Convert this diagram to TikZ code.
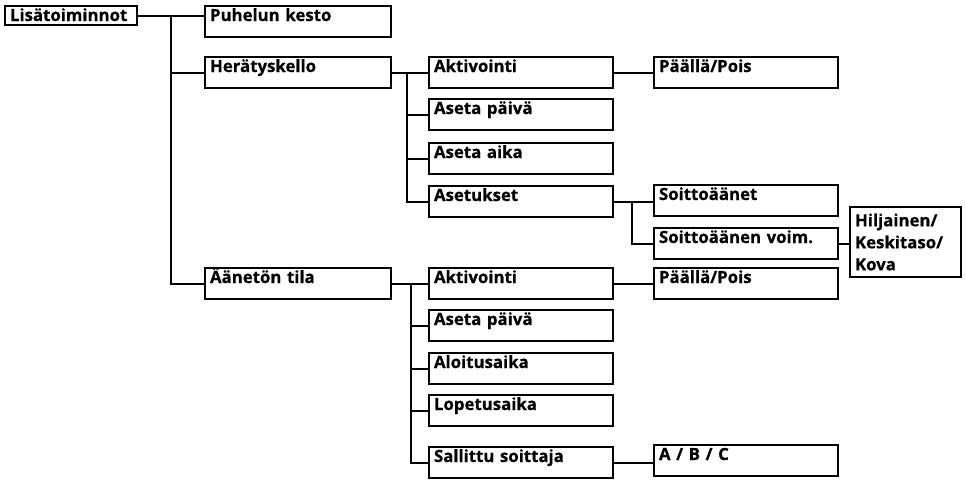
\documentclass[tikz,border=0pt]{standalone}
\usepackage{fontspec}
\setmainfont{Open Sans}[BoldFeatures={FakeBold=0.6}]
\usepackage{tikz}
\usetikzlibrary{positioning,calc}
\tikzset{
  box/.style={draw=black,line width=2pt,anchor=north west,inner xsep=5pt,inner ysep=0pt,
    align=left,font=\fontsize{16.8pt}{22pt}\selectfont\bfseries,
    text height=15pt,text depth=16pt},
  boxtop/.style={box,text width=122pt,text depth=4pt},
  boxa/.style={box,text width=176pt},   % first level
  boxb/.style={box,text width=174pt},   % second level
  boxc/.style={box,text width=174pt},   % third level
  boxd/.style={box,text width=101pt,text height=,text depth=,minimum height=70pt},
  link/.style={draw=black,line width=2pt},
}
\begin{document}
\begin{tikzpicture}[x=1pt,y=-1pt]
  \useasboundingbox (0,0) rectangle (966,479);
  % root and first level
  \node[boxtop] (root) at (4,5)   {Lisätoiminnot};
  \node[boxa]   (kesto) at (204,5)  {Puhelun kesto};
  \node[boxa]   (herat) at (204,56) {Herätyskello};
  \node[boxa]   (aanet) at (204,267){Äänetön tila};
  % alarm clock branch
  \node[boxb] (hakt)  at (428,56)  {Aktivointi};
  \node[boxb] (hpv)   at (428,98)  {Aseta päivä};
  \node[boxb] (haika) at (428,142) {Aseta aika};
  \node[boxb] (haset) at (428,185) {Asetukset};
  \node[boxc] (hpaal) at (653,56)  {Päällä/Pois};
  \node[boxc] (hsoi)  at (653,184) {Soittoäänet};
  \node[boxc] (hvoim) at (653,227) {Soittoäänen voim.};
  \node[boxd] (htaso) at (849,206) {Hiljainen/\\Keskitaso/\\Kova};
  % silent mode branch
  \node[boxb] (sakt)  at (428,267) {Aktivointi};
  \node[boxb] (spv)   at (428,309) {Aseta päivä};
  \node[boxb] (salku) at (428,352) {Aloitusaika};
  \node[boxb] (sloppu)at (428,394) {Lopetusaika};
  \node[boxb] (ssall) at (428,446) {Sallittu soittaja};
  \node[boxc] (spaal) at (653,267) {Päällä/Pois};
  \node[boxc] (sabc)  at (653,444) {A / B / C};
  % trunks
  \coordinate (j0) at (171,0);
  \coordinate (j1) at (407,0);
  \coordinate (j2) at (411,0);
  \coordinate (j3) at (632,0);
  \draw[link] (root.east) -- (kesto.west |- root.east);
  \draw[link] (j0 |- root.east) |- (aanet.west);
  \draw[link] (j0 |- herat.west) -- (herat.west);
  \draw[link] (herat.east) -- (hakt.west |- herat.east);
  \draw[link] (j1 |- herat.east) |- (haset.west);
  \foreach \n in {hpv,haika}
    \draw[link] (j1 |- \n.west) -- (\n.west);
  \draw[link] (hakt.east) -- (hpaal.west |- hakt.east);
  \draw[link] (haset.east) -- (hsoi.west |- haset.east);
  \draw[link] (j3 |- haset.east) |- (hvoim.west);
  \draw[link] (hvoim.east) -- (htaso.west |- hvoim.east);
  \draw[link] (aanet.east) -- (sakt.west |- aanet.east);
  \draw[link] (j2 |- aanet.east) |- (ssall.west);
  \foreach \n in {spv,salku,sloppu}
    \draw[link] (j2 |- \n.west) -- (\n.west);
  \draw[link] (sakt.east) -- (spaal.west |- sakt.east);
  \draw[link] (ssall.east) -- (sabc.west |- ssall.east);
\end{tikzpicture}
\end{document}
